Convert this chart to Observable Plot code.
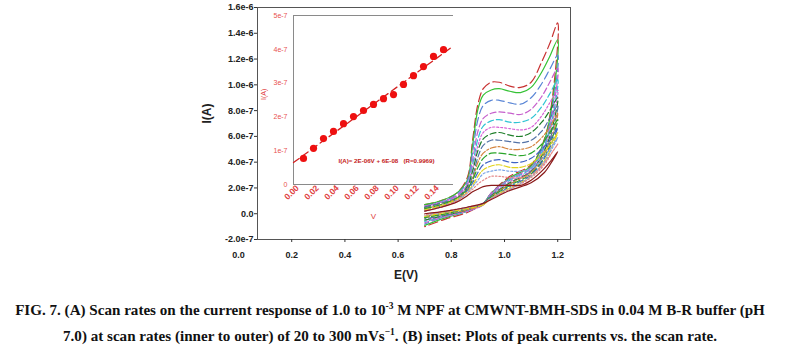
<!DOCTYPE html>
<html>
<head>
<meta charset="utf-8">
<script src="https://cdn.jsdelivr.net/npm/d3@7"></script>
<script src="https://cdn.jsdelivr.net/npm/@observablehq/plot@0.6"></script>
<style>
  html, body { margin: 0; padding: 0; background: #fff; }
  #wrap { position: relative; width: 797px; height: 353px; overflow: hidden; }
  #wrap svg { position: absolute; }
  #caption {
    position: absolute; left: 0; top: 297px; width: 780px;
    font-family: "Liberation Serif", "Times New Roman", serif; font-weight: bold;
    font-size: 15.1px; line-height: 26px; text-align: center; white-space: nowrap; color: #111;
  }
  #caption sup { font-size: 9.5px; line-height: 0; }
</style>
</head>
<body>
<div id="wrap">
  <div id="caption">FIG. 7. (A) Scan rates on the current response of 1.0 to 10<sup>-3</sup> M NPF at CMWNT-BMH-SDS in 0.04 M B-R buffer (pH<br>7.0) at scan rates (inner to outer) of 20 to 300 mVs<sup>−1</sup>. (B) inset: Plots of peak currents vs. the scan rate.</div>
</div>
<script>
// ---------- Main chart: cyclic voltammograms (current in units of 1e-7 A) ----------
const forwardE = [0.70,0.76,0.82,0.86,0.88,0.90,0.92,0.95,0.98,1.02,1.06,1.10,1.14,1.17,1.20];
const reverseE = [1.18,1.15,1.10,1.02,0.95,0.92,0.86,0.78,0.70];
const scanRates = [20,40,60,80,100,120,140,160,180,200,220,240,260,280,300];

const cv20  = [0.2,0.5,0.9,1.4,1.7,1.9,2.1,2.2,2.2,2.2,2.2,2.6,3.3,4.0,4.8, 4.1,3.2,2.4,1.8,1.1,0.8,0.5,0.2,0.0];
const cv40  = [0.2,0.5,1.0,1.6,1.9,2.3,2.6,2.9,2.9,2.8,2.8,3.0,3.7,4.5,5.4, 4.8,3.8,2.8,1.9,1.2,0.8,0.5,0.2,-0.1];
const cv60  = [0.2,0.5,1.0,1.6,2.1,2.6,3.1,3.3,3.4,3.3,3.3,3.5,4.2,5.0,5.9, 5.1,4.0,2.9,1.9,1.2,0.8,0.5,0.2,-0.1];
const cv80  = [0.3,0.6,1.1,1.7,2.2,2.9,3.4,3.7,3.8,3.6,3.6,3.9,4.6,5.3,6.3, 5.3,4.1,2.9,2.0,1.2,0.7,0.4,0.1,-0.2];
const cv100 = [0.3,0.6,1.1,1.8,2.4,3.2,3.8,4.1,4.2,4.0,4.0,4.3,5.0,5.7,6.7, 5.6,4.3,3.0,2.1,1.2,0.8,0.4,0.1,-0.2];
const cv120 = [0.4,0.7,1.2,1.9,2.6,3.6,4.3,4.7,4.7,4.6,4.5,4.7,5.4,6.3,7.3, 5.9,4.4,3.1,2.2,1.3,0.8,0.4,0.0,-0.3];
const cv140 = [0.4,0.7,1.2,1.9,2.7,4.0,4.7,5.1,5.2,5.0,5.0,5.2,5.9,6.7,7.8, 6.1,4.6,3.2,2.3,1.3,0.7,0.3,0.0,-0.3];
const cv160 = [0.5,0.8,1.2,2.0,2.9,4.4,5.3,5.7,5.7,5.6,5.5,5.7,6.4,7.4,8.4, 6.4,4.7,3.3,2.3,1.4,0.8,0.3,-0.1,-0.4];
const cv180 = [0.5,0.8,1.2,2.1,3.3,4.9,5.8,6.2,6.3,6.1,6.0,6.3,7.1,8.0,9.0, 6.7,4.9,3.3,2.4,1.4,0.8,0.3,-0.1,-0.5];
const cv200 = [0.5,0.9,1.3,2.2,3.5,5.3,6.3,6.7,6.7,6.6,6.5,6.7,7.6,8.6,9.6, 7.1,5.0,3.4,2.5,1.5,0.7,0.2,-0.2,-0.5];
const cv220 = [0.5,0.9,1.3,2.2,3.8,5.8,6.8,7.2,7.3,7.1,7.1,7.4,8.3,9.3,10.4, 7.4,5.2,3.5,2.6,1.5,0.8,0.2,-0.2,-0.6];
const cv240 = [0.6,0.9,1.4,2.3,4.2,6.4,7.4,7.8,7.9,7.8,7.7,8.1,9.1,10.2,11.3, 7.8,5.3,3.6,2.7,1.6,0.8,0.2,-0.2,-0.7];
const cv260 = [0.6,0.9,1.5,2.5,4.8,7.3,8.4,8.8,8.8,8.6,8.5,9.0,10.1,11.2,12.3, 8.2,5.5,3.6,2.7,1.6,0.7,0.2,-0.2,-0.8];
const cv280 = [0.7,1.0,1.6,2.6,5.3,8.1,9.2,9.6,9.7,9.5,9.4,9.8,11.0,12.2,13.5, 8.6,5.7,3.7,2.8,1.6,0.8,0.2,-0.3,-0.9];
const cv300 = [0.7,1.0,1.6,2.8,5.7,8.5,9.7,10.2,10.2,9.9,9.8,10.2,11.8,13.2,14.8, 9.0,5.8,3.8,2.9,1.6,0.8,0.1,-0.4,-1.0];

const curveColors = ["#8b1a1a","#e58a8a","#7fa6e6","#e2d21c","#3f63c4","#2aa52a","#d4843f","#5472a6","#1f7f2a","#d764d7","#2fc4d4","#c760cc","#5a86d6","#35c235","#c83232"];
const curveDashes = ["none","1.5,2","2,2","6,2","6,3","7,3","6,2,2,2","6,3","6,3","2,2","6,3","6,3","8,4","none","9,4"];

const xTickValues = [0.0,0.2,0.4,0.6,0.8,1.0,1.2];
const yTickValues = [-2,0,2,4,6,8,10,12,14,16];
const yTickLabels = ["-2.0e-7","0.0","2.0e-7","4.0e-7","6.0e-7","8.0e-7","1.0e-6","1.2e-6","1.4e-6","1.6e-6"];
const xDomain = [0.0714, 1.248];
const yDomain = [-2, 16];

// ---------- Inset: peak current vs scan rate (current in units of 1e-7 A) ----------
const insetV = [0.01,0.02,0.03,0.04,0.05,0.06,0.07,0.08,0.09,0.10,0.11,0.12,0.13,0.14,0.15];
const insetI = [0.77,1.07,1.36,1.57,1.80,2.01,2.19,2.37,2.54,2.66,2.96,3.22,3.49,3.79,3.99];
const fitV = [0, 0.16];
const fitI = [0.65, 4.1];
const insetXTicks = [0.00,0.02,0.04,0.06,0.08,0.10,0.12,0.14];
const insetYTicks = [0,1,2,3,4,5];
const insetYLabels = ["0","1e-7","2e-7","3e-7","4e-7","5e-7"];
const insetXDomain = [0, 0.16];
const insetYDomain = [0, 5];
const fitText = "I(A)= 2E-06V + 6E-08   (R=0.9969)";

const allCurves = [cv20,cv40,cv60,cv80,cv100,cv120,cv140,cv160,cv180,cv200,cv220,cv240,cv260,cv280,cv300];
const sweepE = forwardE.concat(reverseE);

const yLab = new Map(yTickValues.map((v, i) => [v, yTickLabels[i]]));
const iyLab = new Map(insetYTicks.map((v, i) => [v, insetYLabels[i]]));

const curveMarks = allCurves.map((vals, k) => {
  const rows = vals.map((I, j) => ({E: sweepE[j], I, rate: scanRates[k]}));
  return Plot.line(rows, {
    x: "E", y: "I", stroke: curveColors[k],
    strokeDasharray: curveDashes[k] === "none" ? undefined : curveDashes[k],
    strokeWidth: 1.2, curve: "catmull-rom"
  });
}).reverse();

const main = Plot.plot({
  width: 797, height: 292,
  marginLeft: 257, marginRight: 227, marginTop: 7, marginBottom: 53,
  x: {domain: xDomain, label: null},
  y: {domain: yDomain, label: null},
  style: {fontFamily: "'Liberation Sans', Arial, sans-serif", background: "transparent", color: "#222"},
  marks: [
    ...curveMarks,
    Plot.frame({stroke: "#555"}),
    Plot.axisY(yTickValues, {label: null, tickSize: 3, tickPadding: 1, tickFormat: d => yLab.get(d), fontSize: 9, fontWeight: "bold", stroke: "#333"}),
    Plot.axisX(xTickValues.filter(v => v > 0), {label: null, tickSize: 3, tickFormat: () => "", stroke: "#333"}),
    Plot.axisX(xTickValues, {label: null, tickSize: 0, tickPadding: 12, tickFormat: d => d.toFixed(1), fontSize: 9, fontWeight: "bold"}),
    Plot.text(["I(A)"], {frameAnchor: "left", dx: -50, rotate: -90, fontSize: 12, fontWeight: "bold"}),
    Plot.text(["E(V)"], {frameAnchor: "bottom", dx: -8, dy: 39, fontSize: 12, fontWeight: "bold"})
  ]
});
main.style.left = "0px"; main.style.top = "0px";

const insetRows = insetV.map((v, i) => ({V: v, I: insetI[i]}));
const fitRows = fitV.map((v, i) => ({V: v, I: fitI[i]}));

const inset = Plot.plot({
  width: 230, height: 228,
  marginLeft: 53, marginRight: 17, marginTop: 15, marginBottom: 44,
  x: {domain: insetXDomain, axis: null, label: null},
  y: {domain: insetYDomain, label: null},
  style: {fontFamily: "'Liberation Sans', Arial, sans-serif", background: "transparent"},
  marks: [
    Plot.ruleX([insetXDomain[0]], {stroke: "#8a8a8a"}),
    Plot.ruleY(insetYDomain, {stroke: "#8a8a8a"}),
    Plot.line(fitRows, {x: "V", y: "I", stroke: "#d42020", strokeWidth: 1.3, strokeDasharray: "7,4"}),
    Plot.dot(insetRows, {x: "V", y: "I", r: 3.6, fill: "#ee1010", stroke: "none"}),
    Plot.axisY(insetYTicks, {label: null, tickSize: 0, tickPadding: 6, tickFormat: d => iyLab.get(d), fontSize: 7, fill: "#e85050"}),
    Plot.text(insetXTicks, {x: d => d, text: d => d.toFixed(2), frameAnchor: "bottom", dy: 10, rotate: -45, fontSize: 8.5, fontWeight: "bold", fill: "#e04040"}),
    Plot.text(["I(A)"], {frameAnchor: "left", dx: -30, rotate: -90, fontSize: 7, fill: "#e04040"}),
    Plot.text(["V"], {frameAnchor: "bottom", dy: 34, fontSize: 8, fill: "#e04040"}),
    Plot.text([fitText], {frameAnchor: "bottom", dx: 13, dy: -22, fontSize: 6.2, fontWeight: "bold", fill: "#c42020"})
  ]
});
inset.style.left = "240px"; inset.style.top = "0px";

const wrap = document.getElementById("wrap");
wrap.insertBefore(main, wrap.firstChild);
wrap.insertBefore(inset, main.nextSibling);
</script>
</body>
</html>
